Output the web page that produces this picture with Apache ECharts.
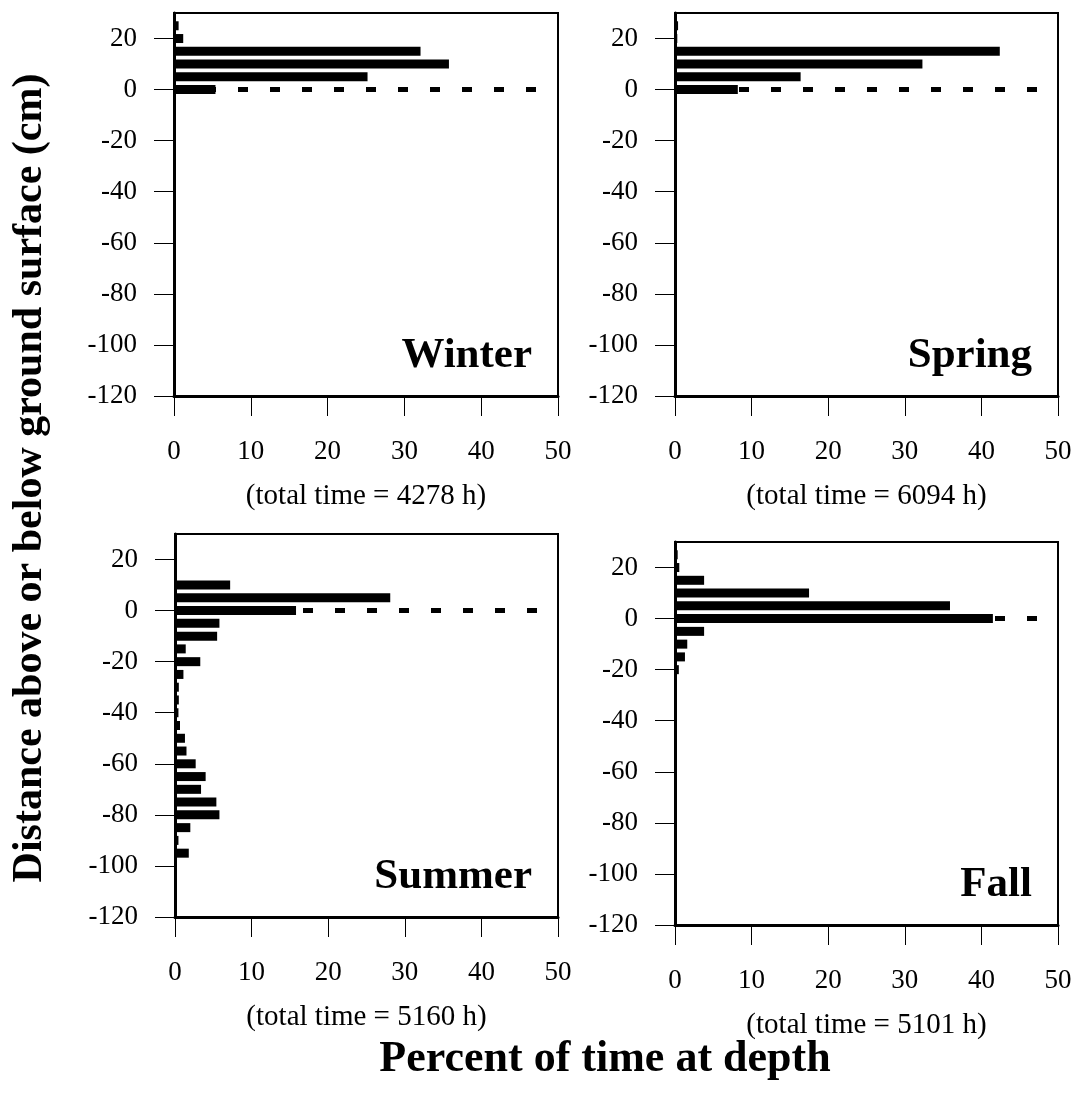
<!DOCTYPE html>
<html>
<head>
<meta charset="utf-8">
<script src="https://cdn.jsdelivr.net/npm/echarts@6/dist/echarts.min.js"></script>
<style>
html, body { margin: 0; padding: 0; background: #fff; }
#chart { width: 1079px; height: 1101px; }
</style>
</head>
<body>
<div id="chart"></div>
<script>
// depth bins (cm), 5 cm apart
var depthAxis = [];
for (var d = -120; d <= 30; d += 5) depthAxis.push(String(d));

var depths = [25, 20, 15, 10, 5, 0, -5, -10, -15, -20, -25, -30, -35, -40, -45, -50, -55, -60, -65, -70, -75, -80, -85, -90, -95];

// percent of time at each depth
var winter = [0.6, 1.2, 32.1, 35.8, 25.2, 5.4];
var spring = [0.4, 0.3, 42.4, 32.3, 16.4, 8.2];
var summer = [0, 0, 0, 7.2, 28.1, 15.8, 5.8, 5.5, 1.4, 3.3, 1.1, 0.5, 0.5, 0.45, 0.65, 1.3, 1.5, 2.7, 4.0, 3.4, 5.4, 5.8, 2.0, 0.45, 1.8];
var fall = [0.35, 0.56, 3.8, 17.5, 35.9, 41.5, 3.8, 1.6, 1.3, 0.5];

var seasons = ['Winter', 'Spring', 'Summer', 'Fall'];
var totalHours = [4278, 6094, 5160, 5101];
var groundLine = [0, 47.5]; // dashed line at ground surface

var font = 'Liberation Serif, Times New Roman, serif';
var myChart = echarts.init(document.getElementById('chart'));

var grids = [
    { left: 174, top: 13, width: 384, height: 383 },
    { left: 675, top: 13, width: 383, height: 383 },
    { left: 175, top: 534, width: 383, height: 383 },
    { left: 675, top: 542, width: 383, height: 383 }
];

function toBars(vals) {
    var out = [];
    vals.forEach(function (v, i) {
        if (v > 0) out.push([v, String(depths[i])]);
    });
    return out;
}

var allData = [winter, spring, summer, fall];
var xAxes = [], yAxes = [], series = [], graphics = [];

grids.forEach(function (g, i) {
    g.show = true;
    g.borderColor = '#000';
    g.borderWidth = 2;
    g.containLabel = false;
    xAxes.push({
        type: 'value', gridIndex: i, min: 0, max: 50, interval: 10,
        axisLine: { show: true, lineStyle: { color: '#000', width: 3 } },
        axisTick: { show: true, length: 20, lineStyle: { color: '#000', width: 1 } },
        axisLabel: { color: '#000', fontFamily: font, fontSize: 27, margin: 42 },
        splitLine: { show: false }
    });
    yAxes.push({
        type: 'category', gridIndex: i, data: depthAxis, boundaryGap: false,
        axisLine: { show: true, lineStyle: { color: '#000', width: 3 } },
        axisTick: { show: true, length: 20, interval: 3, lineStyle: { color: '#000', width: 1 } },
        axisLabel: { color: '#000', fontFamily: font, fontSize: 27, margin: 37, interval: 3 },
        splitLine: { show: false }
    });
    series.push({
        type: 'bar', xAxisIndex: i, yAxisIndex: i, z: 3,
        barWidth: 9,
        itemStyle: { color: '#000' },
        data: toBars(allData[i])
    });
    series.push({
        type: 'line', xAxisIndex: i, yAxisIndex: i, z: 2,
        symbol: 'none', silent: true,
        lineStyle: { color: '#000', width: 5, type: [10, 22] },
        data: [[groundLine[0], '0'], [groundLine[1], '0']]
    });
    graphics.push({
        type: 'text', x: g.left + g.width - 26, y: g.top + 343,
        style: { text: seasons[i], font: 'bold 43px ' + font, fill: '#000', textAlign: 'right', textVerticalAlign: 'middle' }
    });
    graphics.push({
        type: 'text', x: g.left + g.width / 2, y: g.top + g.height + 100,
        style: { text: '(total time = ' + totalHours[i] + ' h)', font: '29px ' + font, fill: '#000', textAlign: 'center', textVerticalAlign: 'middle' }
    });
});

graphics.push({
    type: 'text', x: 30, y: 478, rotation: Math.PI / 2,
    style: { text: 'Distance above or below ground surface (cm)', font: 'bold 42px ' + font, fill: '#000', textAlign: 'center', textVerticalAlign: 'middle' }
});
graphics.push({
    type: 'text', x: 605, y: 1060,
    style: { text: 'Percent of time at depth', font: 'bold 44px ' + font, fill: '#000', textAlign: 'center', textVerticalAlign: 'middle' }
});

var option = {
    backgroundColor: '#fff',
    animation: false,
    grid: grids,
    xAxis: xAxes,
    yAxis: yAxes,
    series: series,
    graphic: graphics
};
myChart.setOption(option);
window.addEventListener('resize', function () {
    myChart.resize();
});
</script>
</body>
</html>
